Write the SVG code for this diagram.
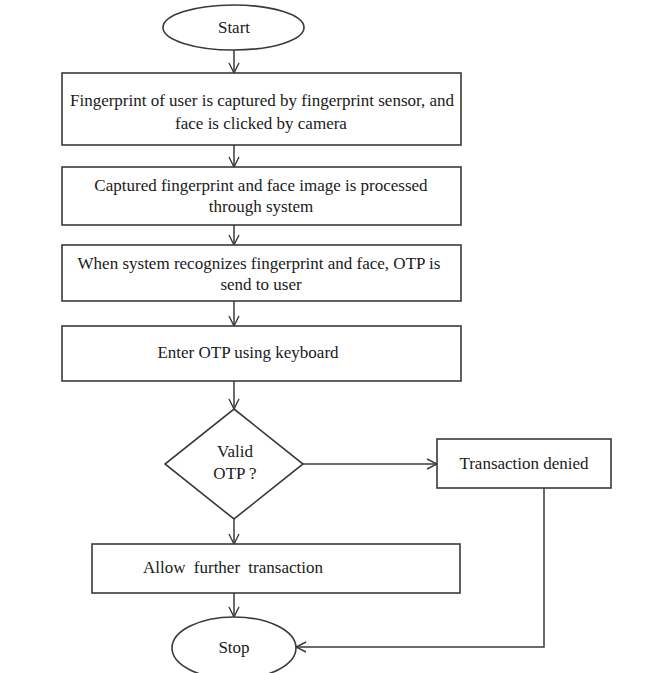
<svg xmlns="http://www.w3.org/2000/svg" width="648" height="673" viewBox="0 0 648 673">
<defs>
<marker id="arr" viewBox="0 0 12 12" refX="11" refY="6" markerWidth="12" markerHeight="12" markerUnits="userSpaceOnUse" orient="auto">
<path d="M1,1 L11,6 L1,11" fill="none" stroke="#3a3a3a" stroke-width="1.4"/>
</marker>
<style>
.s{fill:#fff;stroke:#3a3a3a;stroke-width:1.6}
.c{fill:none;stroke:#3a3a3a;stroke-width:1.5}
text{font-family:"Liberation Serif","Times New Roman",serif;font-size:17px;fill:#1a1a1a;text-anchor:middle}
</style>
</defs>
<rect width="648" height="673" fill="#fff"/>
<g id="connectors">
<line class="c" x1="234" y1="50" x2="234" y2="73" marker-end="url(#arr)"/>
<line class="c" x1="234" y1="145" x2="234" y2="167" marker-end="url(#arr)"/>
<line class="c" x1="234" y1="225" x2="234" y2="245" marker-end="url(#arr)"/>
<line class="c" x1="234" y1="301" x2="234" y2="326" marker-end="url(#arr)"/>
<line class="c" x1="234" y1="381" x2="234" y2="409" marker-end="url(#arr)"/>
<line class="c" x1="303" y1="464" x2="437" y2="464" marker-end="url(#arr)"/>
<line class="c" x1="234" y1="519" x2="234" y2="544" marker-end="url(#arr)"/>
<line class="c" x1="234" y1="593" x2="234" y2="617" marker-end="url(#arr)"/>
<polyline class="c" points="544,488 544,647 296,647" marker-end="url(#arr)"/>
</g>
<g id="start">
<ellipse class="s" cx="233.5" cy="27.5" rx="70.5" ry="22.5"/>
<text x="234" y="33">Start</text>
</g>
<g id="capture">
<rect class="s" x="62" y="73" width="399" height="72"/>
<text x="262" y="106">Fingerprint of user is captured by fingerprint sensor, and</text>
<text x="261" y="129">face is clicked by camera</text>
</g>
<g id="process">
<rect class="s" x="62" y="167" width="399" height="58"/>
<text x="261" y="191">Captured fingerprint and face image is processed</text>
<text x="261" y="212">through system</text>
</g>
<g id="recognize">
<rect class="s" x="62" y="245" width="399" height="56"/>
<text x="259" y="269">When system recognizes fingerprint and face, OTP is</text>
<text x="261" y="290">send to user</text>
</g>
<g id="enter">
<rect class="s" x="62" y="326" width="399" height="55"/>
<text x="248" y="358">Enter OTP using keyboard</text>
</g>
<g id="valid">
<polygon class="s" points="234,409 303,464 234,519 165,464"/>
<text x="235" y="457">Valid</text>
<text x="235" y="479">OTP ?</text>
</g>
<g id="denied">
<rect class="s" x="437" y="439" width="174" height="49"/>
<text x="524" y="469">Transaction denied</text>
</g>
<g id="allow">
<rect class="s" x="92" y="544" width="368" height="49"/>
<text x="233" y="573" word-spacing="4">Allow further transaction</text>
</g>
<g id="stop">
<ellipse class="s" cx="234" cy="648" rx="62" ry="31"/>
<text x="234" y="653">Stop</text>
</g>
</svg>
